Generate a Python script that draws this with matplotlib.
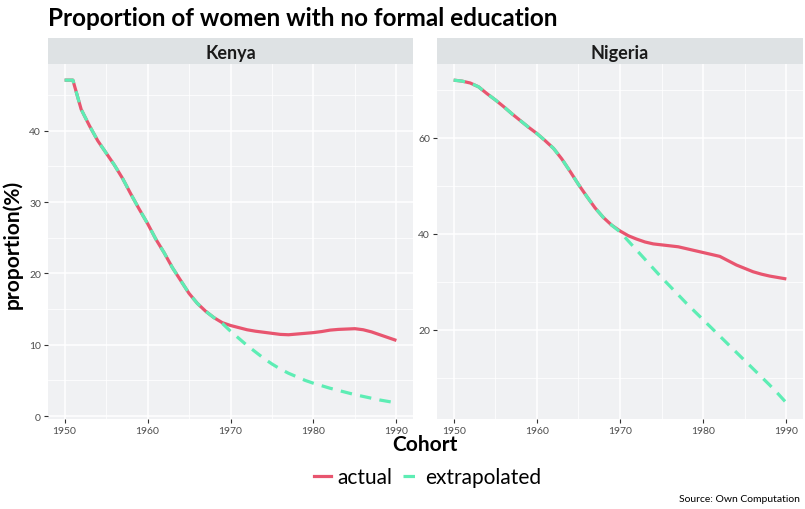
import matplotlib
matplotlib.use('Agg')
import matplotlib.pyplot as plt
from matplotlib.ticker import MultipleLocator
from matplotlib.lines import Line2D

# ---------------- data ----------------
years = list(range(1950, 1991))
kenya_actual = [47.1, 47.1, 43.0, 40.7, 38.6, 36.9, 35.2, 33.3, 31.1, 29.0,
                27.0, 24.8, 22.9, 20.8, 19.0, 17.2, 15.8, 14.7, 13.8, 13.1,
                12.7, 12.4, 12.1, 11.9, 11.75, 11.6, 11.45, 11.4, 11.5, 11.6,
                11.7, 11.85, 12.05, 12.15, 12.2, 12.25, 12.1, 11.8, 11.4, 11.0,
                10.6]
kenya_extrap = [47.1, 47.1, 43.0, 40.7, 38.6, 36.9, 35.2, 33.3, 31.1, 29.0,
                27.0, 24.8, 22.9, 20.8, 19.0, 17.2, 15.8, 14.7, 13.8, 13.0,
                11.9, 10.9, 9.9, 9.0, 8.1, 7.3, 6.6, 6.0, 5.5, 5.0,
                4.6, 4.25, 3.9, 3.6, 3.3, 3.0, 2.75, 2.5, 2.25, 2.05,
                1.85]
nigeria_actual = [72.0, 71.8, 71.4, 70.6, 69.2, 67.9, 66.5, 65.0, 63.6, 62.2,
                  60.9, 59.4, 57.8, 55.6, 53.0, 50.3, 47.8, 45.4, 43.4, 41.8,
                  40.6, 39.6, 38.9, 38.3, 37.9, 37.7, 37.5, 37.3, 36.9, 36.5,
                  36.1, 35.7, 35.3, 34.4, 33.5, 32.8, 32.1, 31.6, 31.2, 30.9,
                  30.6]
nigeria_extrap = [72.0, 71.8, 71.4, 70.6, 69.2, 67.9, 66.5, 65.0, 63.6, 62.2,
                  60.9, 59.4, 57.8, 55.6, 53.0, 50.3, 47.8, 45.4, 43.4, 41.8,
                  40.4, 38.5, 36.6, 34.7, 32.8, 30.9, 29.1, 27.3, 25.5, 23.8,
                  22.1, 20.4, 18.7, 17.0, 15.3, 13.6, 11.9, 10.2, 8.5, 6.7,
                  4.8]
countries = ['Kenya', 'Nigeria']
series_labels = ['actual', 'extrapolated']
x_ticks = [1950, 1960, 1970, 1980, 1990]
kenya_yticks = [0, 10, 20, 30, 40]
nigeria_yticks = [20, 40, 60]

# ---------------- style ----------------
FONT = ['Lato', 'DejaVu Sans']
plt.rcParams['font.family'] = FONT
PINK = '#E8556F'
MINT = '#5DEDB4'
PANEL = '#F0F1F3'
STRIP = '#DEE2E4'
TICKC = '#4D4D4D'

fig = plt.figure(figsize=(8.05, 5.10), dpi=100)
W, H = 805.0, 510.0

def rect(l, r, t, b):
    return [l / W, 1 - b / H, (r - l) / W, (b - t) / H]

panels = [(48, 413), (437, 803)]
ptop, pbot = 65, 420
stop = 39

data = [(kenya_actual, kenya_extrap, kenya_yticks),
        (nigeria_actual, nigeria_extrap, nigeria_yticks)]

for (l, r), name, (act, ext, yt) in zip(panels, countries, data):
    ax = fig.add_axes(rect(l, r, ptop, pbot))
    ax.set_facecolor(PANEL)
    for s in ax.spines.values():
        s.set_visible(False)
    ax.plot(years, act, color=PINK, lw=2.3, solid_capstyle='butt', zorder=3)
    ax.plot(years, ext, color=MINT, lw=2.3, dashes=(3.6, 2.6), zorder=4)
    lo = min(min(act), min(ext)); hi = max(max(act), max(ext))
    pad = (hi - lo) * 0.05
    ax.set_ylim(lo - pad, hi + pad)
    ax.set_xlim(1948, 1992)
    ax.set_xticks(x_ticks)
    ax.set_yticks(yt)
    ax.xaxis.set_minor_locator(MultipleLocator(5))
    ax.yaxis.set_minor_locator(MultipleLocator(5 if name == 'Kenya' else 10))
    ax.grid(which='major', color='white', lw=1.1)
    ax.grid(which='minor', color='white', lw=0.55)
    ax.set_axisbelow(True)
    ax.tick_params(which='major', length=3, width=0.8, color='#333333',
                   labelsize=7.5, labelcolor=TICKC, pad=2)
    ax.tick_params(which='minor', length=0)
    # strip
    sax = fig.add_axes(rect(l, r, stop, ptop))
    sax.set_facecolor(STRIP)
    sax.set_xticks([]); sax.set_yticks([])
    for s in sax.spines.values():
        s.set_visible(False)
    sax.text(0.5, 0.45, name, transform=sax.transAxes, ha='center', va='center',
             fontsize=13, fontweight='bold', color='#1A1A1A')

fig.text(48 / W, 1 - 18 / H, 'Proportion of women with no formal education',
         ha='left', va='center', fontsize=17.5, fontweight='bold', color='black')
fig.text(12 / W, 1 - 244 / H, 'proportion(%)', rotation=90, ha='center',
         va='center', fontsize=15, fontweight='bold')
fig.text(425 / W, 1 - 445 / H, 'Cohort', ha='center', va='center',
         fontsize=15, fontweight='bold')
fig.text(800 / W, 1 - 500 / H, 'Source: Own Computation', ha='right',
         va='center', fontsize=7.5)

handles = [Line2D([], [], color=PINK, lw=2.3),
           Line2D([], [], color=MINT, lw=2.3, dashes=(3.6, 2.6))]
fig.legend(handles, series_labels, loc='center', ncol=2,
           bbox_to_anchor=(428 / W, 1 - 478 / H), frameon=False, fontsize=15,
           handlelength=0.8, handletextpad=0.3, columnspacing=0.5)

fig.savefig('out.png', dpi=100)
